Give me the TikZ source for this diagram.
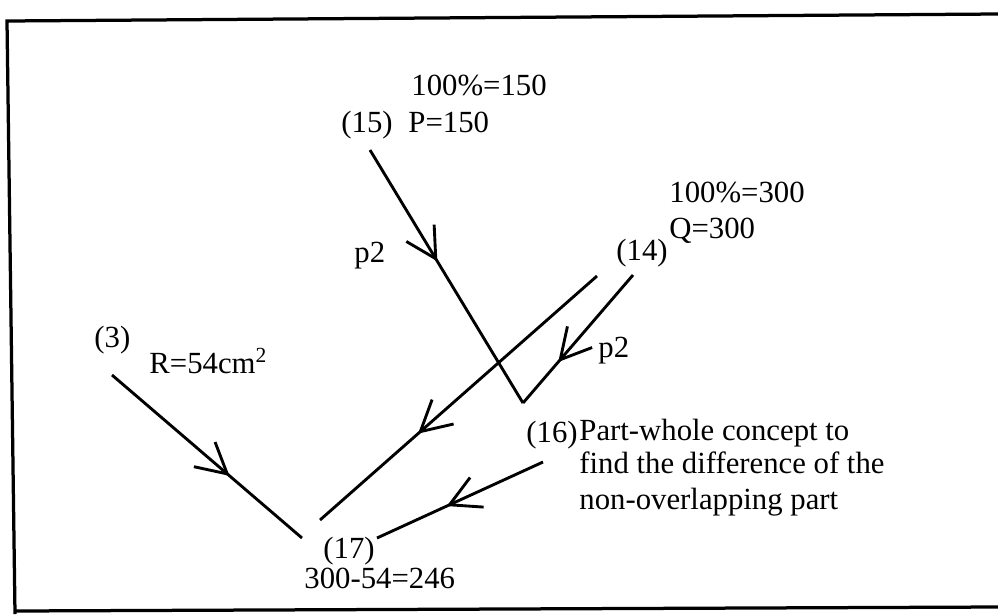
\documentclass[tikz,border=0pt]{standalone}
\usepackage{fontspec}
\setmainfont{Liberation Serif}
\usetikzlibrary{arrows.meta,decorations.markings}

\begin{document}
\begin{tikzpicture}[x=0.4pt,y=-0.4pt,line width=1.15pt,
  lbl/.style={anchor=base west, inner sep=0pt, font=\fontsize{12.3}{14}\selectfont},
  flow/.style={postaction={decorate}, decoration={markings,
      mark=at position #1 with {\arrow{Straight Barb[length=12pt,width=13pt]}}}}]
  \useasboundingbox (0,0) rectangle (998,614);
  % Frame
  \draw[line width=1.3pt] (998,14) -- (7,21) -- (15,614);
  \draw[line width=1.3pt] (15,611) -- (998,607);
  % Labels
  \node[lbl] (t15a) at (410,95) {100\%=150};
  \node[lbl] (t15) at (340,132) {(15)};
  \node[lbl] (t15b) at (407,132) {P=150};
  \node[lbl] (t14a) at (668,202) {100\%=300};
  \node[lbl] (t14b) at (668,238) {Q=300};
  \node[lbl] (t14) at (615,260) {(14)};
  \node[lbl] (p2a) at (353,262) {p2};
  \node[lbl] (p2b) at (597,357) {p2};
  \node[lbl] (t3) at (93,347) {(3)};
  \node[lbl] (t3b) at (148,373) {R=54cm\textsuperscript{2}};
  \node[lbl] (t16) at (525,442) {(16)};
  \node[lbl] (t16a) at (578,440) {Part-whole concept to};
  \node[lbl] (t16b) at (578,473) {find the difference of the};
  \node[lbl] (t16c) at (578,509) {non-overlapping part};
  \node[lbl] (t17) at (322,558) {(17)};
  \node[lbl] (t17b) at (303,588) {300-54=246};
  % Line ends
  \coordinate (s15) at (370,150);
  \coordinate (v) at (523,403);
  \coordinate (s14) at (633,275);
  \coordinate (sx) at (597,276);
  \coordinate (e17) at (320,520);
  \coordinate (s3) at (112,375);
  \coordinate (e3) at (302,538);
  \coordinate (s16) at (543,462);
  \coordinate (e16) at (377,538);
  % Connectors
  \draw[flow=0.44] (s15) -- (v);
  \draw[flow=0.68] (s14) -- (v);
  \draw[flow=0.646] (sx) -- (e17);
  \draw[flow=0.62] (s3) -- (e3);
  \draw[flow=0.58] (s16) -- (e16);
\end{tikzpicture}
\end{document}
